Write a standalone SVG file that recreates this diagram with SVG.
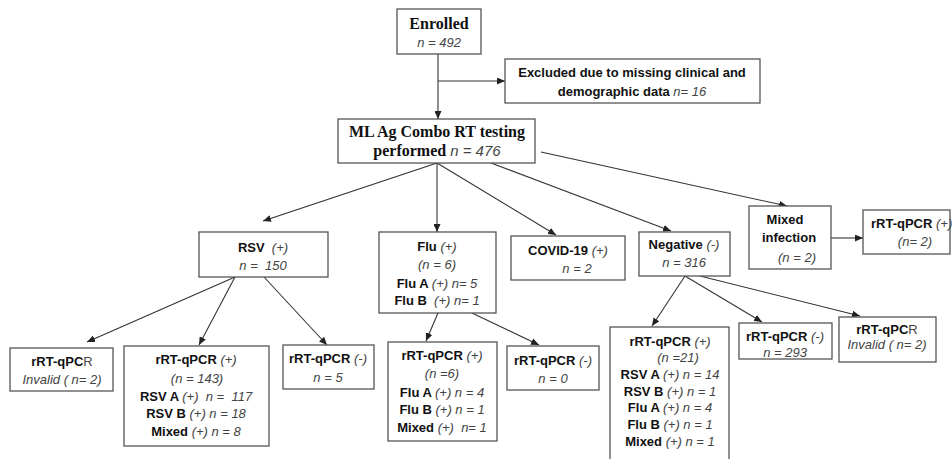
<svg xmlns="http://www.w3.org/2000/svg" width="952" height="459" viewBox="0 0 952 459">
<style>
  .box { fill: #fff; stroke: #555; stroke-width: 1.3; }
  text { font-family: "Liberation Sans", Arial, sans-serif; font-size: 13px; text-anchor: middle; fill: #111; white-space: pre; }
  .serif { font-family: "Liberation Serif", "Times New Roman", serif; font-weight: bold; font-size: 16px; }
  .b { font-weight: bold; fill: #111; }
  .i { font-style: italic; fill: #444; font-weight: normal; font-family: "Liberation Sans", Arial, sans-serif; }
  .r { font-weight: normal; fill: #444; }
  .con line { stroke: #333; stroke-width: 1.1; fill: none; }
</style>
<defs>
  <marker id="ah" viewBox="0 0 8 7" refX="8" refY="3.5" markerWidth="8" markerHeight="7" markerUnits="userSpaceOnUse" orient="auto">
    <path d="M0,0 L8,3.5 L0,7 z" fill="#222"/>
  </marker>
</defs>
<rect width="952" height="459" fill="#fff"/>

<g class="con">
  <line x1="438" y1="54" x2="438" y2="119" marker-end="url(#ah)"/>
  <line x1="438" y1="81" x2="505" y2="81" marker-end="url(#ah)"/>
  <line x1="437" y1="163" x2="263" y2="221" marker-end="url(#ah)"/>
  <line x1="437" y1="163" x2="437" y2="232" marker-end="url(#ah)"/>
  <line x1="437" y1="163" x2="556" y2="235" marker-end="url(#ah)"/>
  <line x1="491" y1="163" x2="671" y2="231" marker-end="url(#ah)"/>
  <line x1="541" y1="152" x2="787" y2="206" marker-end="url(#ah)"/>
  <line x1="831" y1="238" x2="863" y2="238" marker-end="url(#ah)"/>
  <line x1="235" y1="277" x2="87" y2="342" marker-end="url(#ah)"/>
  <line x1="235" y1="277" x2="199" y2="345" marker-end="url(#ah)"/>
  <line x1="264" y1="277" x2="327" y2="345" marker-end="url(#ah)"/>
  <line x1="438" y1="313" x2="426" y2="341" marker-end="url(#ah)"/>
  <line x1="472" y1="313" x2="539" y2="345" marker-end="url(#ah)"/>
  <line x1="685" y1="276" x2="652" y2="326" marker-end="url(#ah)"/>
  <line x1="685" y1="276" x2="762" y2="322" marker-end="url(#ah)"/>
  <line x1="700" y1="276" x2="860" y2="316" marker-end="url(#ah)"/>
</g>

<g id="enrolled">
  <rect class="box" x="397" y="9" width="84" height="45"/>
  <text x="439" y="29" class="serif" font-size="15">Enrolled</text>
  <text x="439" y="47" class="i">n = 492</text>
</g>

<g id="excluded">
  <rect class="box" x="505" y="59" width="255" height="44"/>
  <text x="632" y="77" class="b">Excluded due to missing clinical and</text>
  <text x="632" y="96"><tspan class="b">demographic data </tspan><tspan class="i">n= 16</tspan></text>
</g>

<g id="ml">
  <rect class="box" x="338" y="119" width="197" height="44"/>
  <text x="437" y="137" class="serif">ML Ag Combo RT testing</text>
  <text x="437" y="156"><tspan class="serif">performed </tspan><tspan class="i" font-size="15">n = 476</tspan></text>
</g>

<g id="rsv">
  <rect class="box" x="199" y="232" width="129" height="45"/>
  <text x="263" y="252"><tspan class="b">RSV  </tspan><tspan class="i">(+)</tspan></text>
  <text x="263" y="270" class="i">n =  150</text>
</g>

<g id="flu">
  <rect class="box" x="379" y="232" width="117" height="81"/>
  <text x="437" y="251"><tspan class="b">Flu </tspan><tspan class="i">(+)</tspan></text>
  <text x="437" y="269" class="i">(n = 6)</text>
  <text x="437" y="288"><tspan class="b">Flu A </tspan><tspan class="i">(+) n= 5</tspan></text>
  <text x="437" y="305"><tspan class="b">Flu B  </tspan><tspan class="i">(+) n= 1</tspan></text>
</g>

<g id="covid">
  <rect class="box" x="511" y="236" width="114" height="44"/>
  <text x="568" y="255"><tspan class="b">COVID-19 </tspan><tspan class="i">(+)</tspan></text>
  <text x="577" y="273" class="i">n = 2</text>
</g>

<g id="negative">
  <rect class="box" x="639" y="232" width="91" height="44"/>
  <text x="684" y="249"><tspan class="b">Negative </tspan><tspan class="i">(-)</tspan></text>
  <text x="684" y="267" class="i">n = 316</text>
</g>

<g id="mixed">
  <rect class="box" x="749" y="206" width="82" height="63"/>
  <text x="785" y="224" class="b">Mixed</text>
  <text x="789" y="242" class="b">infection</text>
  <text x="797" y="262" class="i">(n = 2)</text>
</g>

<g id="mixed-pcr">
  <rect class="box" x="863" y="210" width="87" height="44"/>
  <text x="871" y="228" style="text-anchor:start" font-size="12.5"><tspan class="b">rRT-qPCR </tspan><tspan class="i">(+)</tspan></text>
  <text x="915" y="246" class="i">(n= 2)</text>
</g>

<g id="rsv-invalid">
  <rect class="box" x="10" y="348" width="103" height="43"/>
  <text x="62" y="366"><tspan class="b">rRT-qPC</tspan><tspan class="r">R</tspan></text>
  <text x="62" y="384" class="i">Invalid ( n= 2)</text>
</g>

<g id="rsv-pos">
  <rect class="box" x="124" y="346" width="145" height="100"/>
  <text x="196" y="364"><tspan class="b">rRT-qPCR </tspan><tspan class="i">(+)</tspan></text>
  <text x="197" y="383" class="i">(n = 143)</text>
  <text x="196" y="401"><tspan class="b">RSV A </tspan><tspan class="i">(+)  n =  117</tspan></text>
  <text x="196" y="418"><tspan class="b">RSV B </tspan><tspan class="i">(+) n = 18</tspan></text>
  <text x="196" y="436"><tspan class="b">Mixed </tspan><tspan class="i">(+) n = 8</tspan></text>
</g>

<g id="rsv-neg">
  <rect class="box" x="283" y="345" width="91" height="44"/>
  <text x="328" y="363"><tspan class="b">rRT-qPCR </tspan><tspan class="i">(-)</tspan></text>
  <text x="328" y="382" class="i">n = 5</text>
</g>

<g id="flu-pos">
  <rect class="box" x="388" y="342" width="109" height="99"/>
  <text x="442" y="360"><tspan class="b">rRT-qPCR </tspan><tspan class="i">(+)</tspan></text>
  <text x="442" y="378" class="i">(n =6)</text>
  <text x="442" y="397"><tspan class="b">Flu A </tspan><tspan class="i">(+) n = 4</tspan></text>
  <text x="442" y="414"><tspan class="b">Flu B </tspan><tspan class="i">(+) n = 1</tspan></text>
  <text x="442" y="432"><tspan class="b">Mixed </tspan><tspan class="i">(+)  n= 1</tspan></text>
</g>

<g id="flu-neg">
  <rect class="box" x="507" y="346" width="92" height="44"/>
  <text x="553" y="365"><tspan class="b">rRT-qPCR </tspan><tspan class="i">(-)</tspan></text>
  <text x="553" y="383" class="i">n = 0</text>
</g>

<g id="neg-pos">
  <rect class="box" x="610" y="327" width="119" height="140"/>
  <text x="670" y="346"><tspan class="b">rRT-qPCR </tspan><tspan class="i">(+)</tspan></text>
  <text x="678" y="362" class="i">(n =21)</text>
  <text x="670" y="379"><tspan class="b">RSV A </tspan><tspan class="i">(+) n = 14</tspan></text>
  <text x="670" y="396"><tspan class="b">RSV B </tspan><tspan class="i">(+) n = 1</tspan></text>
  <text x="670" y="412"><tspan class="b">Flu A </tspan><tspan class="i">(+) n = 4</tspan></text>
  <text x="670" y="429"><tspan class="b">Flu B </tspan><tspan class="i">(+) n = 1</tspan></text>
  <text x="670" y="446"><tspan class="b">Mixed </tspan><tspan class="i">(+) n = 1</tspan></text>
</g>

<g id="neg-neg">
  <rect class="box" x="739" y="323" width="93" height="36"/>
  <text x="785" y="341"><tspan class="b">rRT-qPCR </tspan><tspan class="i">(-)</tspan></text>
  <text x="785" y="357" class="i">n = 293</text>
</g>

<g id="neg-invalid">
  <rect class="box" x="839" y="317" width="97" height="45"/>
  <text x="887" y="334"><tspan class="b">rRT-qPC</tspan><tspan class="r">R</tspan></text>
  <text x="887" y="349" class="i">Invalid ( n= 2)</text>
</g>
</svg>
